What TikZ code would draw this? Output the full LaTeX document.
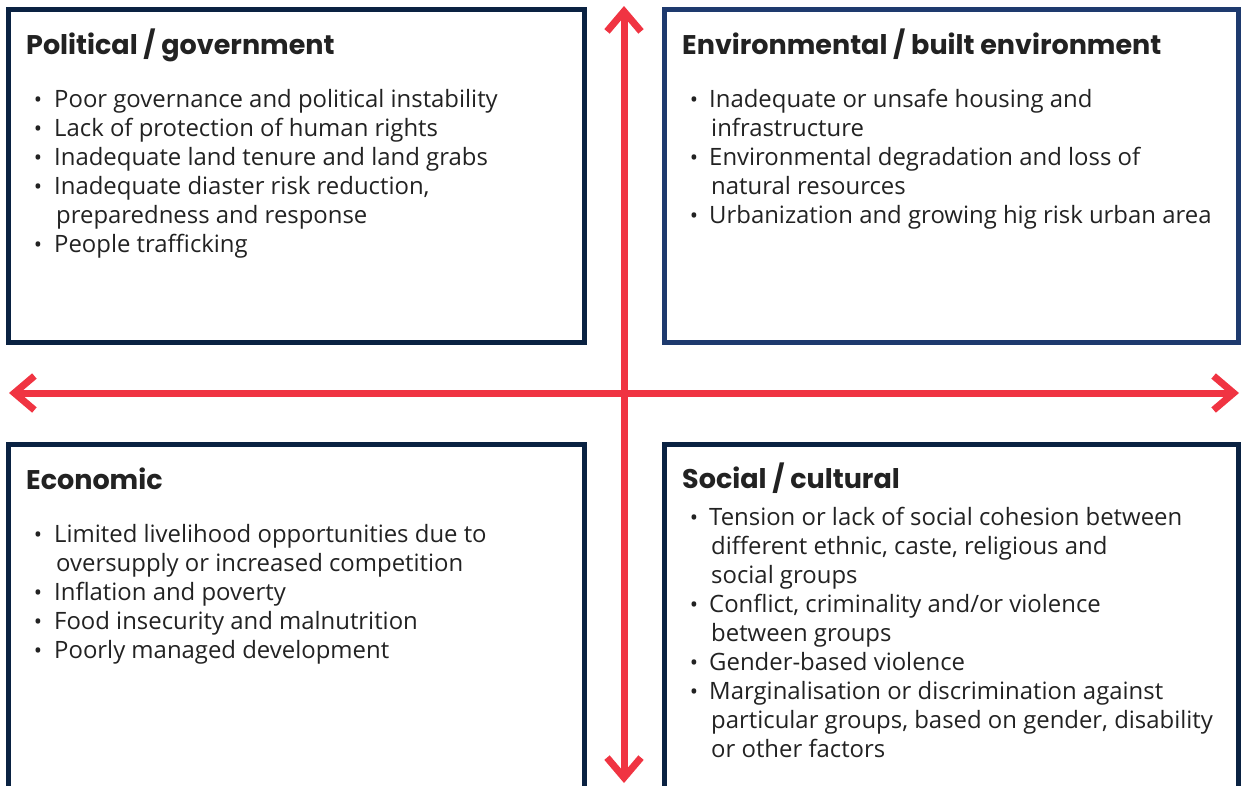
\documentclass[tikz,border=0pt]{standalone}
\usepackage{fontspec}
\setmainfont{Open Sans}
\newfontfamily\headfont{Poppins}
\usetikzlibrary{arrows.meta}
\definecolor{navyA}{RGB}{10,34,66}
\definecolor{navyB}{RGB}{30,58,110}
\definecolor{redA}{RGB}{240,52,66}
\definecolor{txt}{RGB}{34,34,34}
\tikzset{
  box/.style={line width=5pt, inner sep=0pt, outer sep=0pt, anchor=north west},
  head/.style={font=\headfont\bfseries\fontsize{27}{30}\selectfont, text=txt, anchor=base west, inner sep=0pt},
  body/.style={font=\fontsize{23.9}{29}\selectfont, text=txt, anchor=base west, inner sep=0pt},
  bul/.style={font=\fontsize{22}{29}\selectfont, text=txt, anchor=base, inner sep=0pt},
  barb/.tip={Straight Barb[length=20pt,width=34pt]},
  axis/.style={draw=redA, line width=7pt, barb-barb}
}
% #1 name prefix, #2 bullet x, #3 text x, #4 first baseline, #5 list of b/text or c/text
\newcommand\blist[5]{%
  \foreach \k/\t [count=\i from 0] in {#5}{%
    \if b\k
      \node[bul] (#1-b\i) at (#2, #4+29*\i) {•};
      \node[body] (#1-\i) at (#3, #4+29*\i) {\t};
    \else
      \node[body] (#1-\i) at (#3+2, #4+29*\i) {\t};
    \fi
  }%
}
\begin{document}
\begin{tikzpicture}[x=1pt,y=-1pt]
\useasboundingbox (0,0) rectangle (1241,785);
\clip (0,0) rectangle (1241,785);
% boxes
\node[box, draw=navyA, minimum width=576.5pt, minimum height=333pt] (tl) at (8,9.5) {};
\node[box, draw=navyB, minimum width=574pt, minimum height=333pt] (tr) at (664.5,9.5) {};
\node[box, draw=navyA, minimum width=576.5pt, minimum height=350pt] (bl) at (8,444.5) {};
\node[box, draw=navyA, minimum width=574pt, minimum height=350pt] (br) at (664.5,444.5) {};
% headings
\node[head] (tl-h) at (26,54) {Political / government};
\node[head] (tr-h) at (682,54) {Environmental / built environment};
\node[head] (bl-h) at (26,489) {Economic};
\node[head] (br-h) at (682,488) {Social / cultural};
% lists
\blist{tl}{38}{54}{107}{b/Poor governance and political instability, b/Lack of protection of human rights, b/Inadequate land tenure and land grabs, {b/Inadequate diaster risk reduction,}, c/preparedness and response, b/People trafficking}
\blist{tr}{694}{709}{107}{b/Inadequate or unsafe housing and, c/infrastructure, b/Environmental degradation and loss of, c/natural resources, b/Urbanization and growing hig risk urban area}
\blist{bl}{38}{54}{542}{b/Limited livelihood opportunities due to, c/oversupply or increased competition, b/Inflation and poverty, b/Food insecurity and malnutrition, b/Poorly managed development}
\blist{br}{694}{709}{525}{b/Tension or lack of social cohesion between, {c/different ethnic, caste, religious and}, c/social groups, {b/{Conflict, criminality and/or violence}}, c/between groups, b/Gender-based violence, b/Marginalisation or discrimination against, {c/particular groups, based on gender, disability}, c/or other factors}
% axes
\coordinate (vtop) at (624,6);
\coordinate (vbot) at (624,783);
\coordinate (hleft) at (9,393);
\coordinate (hright) at (1239,393);
\draw[axis] (vtop) -- (vbot);
\draw[axis] (hleft) -- (hright);
\end{tikzpicture}
\end{document}
